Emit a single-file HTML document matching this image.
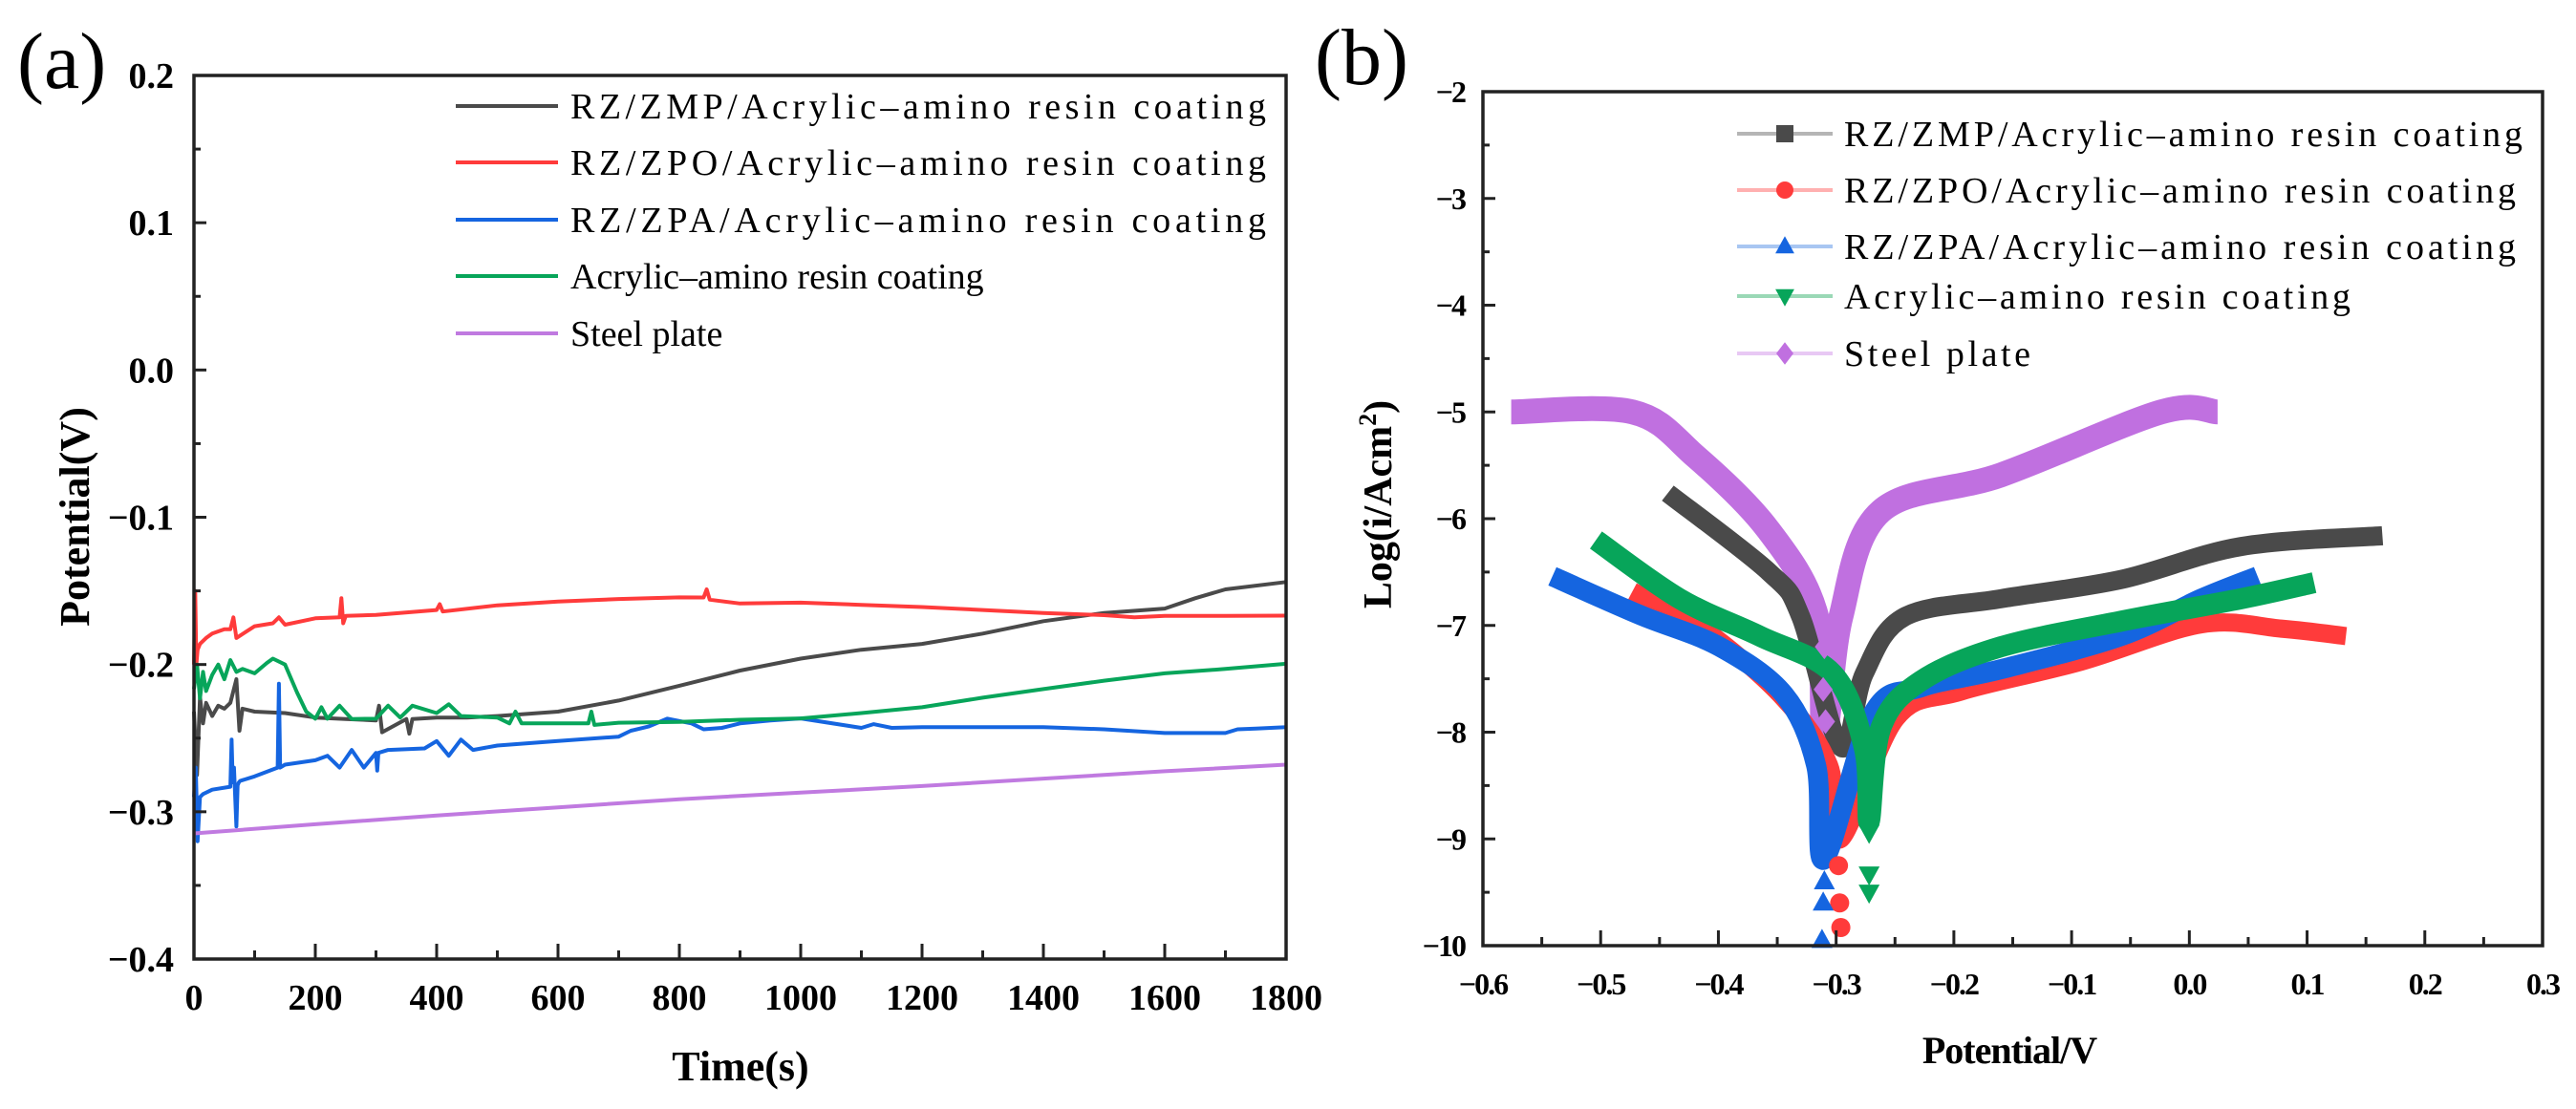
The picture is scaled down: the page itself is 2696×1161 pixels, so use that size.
<!DOCTYPE html>
<html><head><meta charset="utf-8">
<style>
html,body{margin:0;padding:0;background:#fff;}
svg{display:block;}
text{font-family:"Liberation Serif",serif;}
</style></head>
<body>
<svg id="fig" width="2696" height="1161" viewBox="0 0 2696 1161" xmlns="http://www.w3.org/2000/svg">
<rect x="0" y="0" width="2696" height="1161" fill="#fff"/>
<g id="pa"></g>
<g id="pb"></g>
</svg>
<script>
// ---------- Panel (a) data: open circuit potential vs time ----------
const aXTicks = [0,200,400,600,800,1000,1200,1400,1600,1800];
const aYTicks = [0.2,0.1,0.0,-0.1,-0.2,-0.3,-0.4];
const aYTickLabels = ["0.2","0.1","0.0","\u22120.1","\u22120.2","\u22120.3","\u22120.4"];
const aNames = ["RZ/ZMP/Acrylic\u2013amino resin coating","RZ/ZPO/Acrylic\u2013amino resin coating","RZ/ZPA/Acrylic\u2013amino resin coating","Acrylic\u2013amino resin coating","Steel plate"];
const aColors = ["#4a4a4a","#ff3b3b","#1565e0","#07a55a","#c07ae0"];

const blackT = [0,5,10,15,20,30,40,50,60,70,75,80,100,150,200,250,300,305,310,350,355,360,400,450,500,600,700,800,900,1000,1100,1200,1300,1400,1500,1600,1650,1700,1800];
const blackV = [-0.232,-0.275,-0.222,-0.24,-0.226,-0.235,-0.228,-0.23,-0.226,-0.21,-0.245,-0.23,-0.232,-0.233,-0.236,-0.237,-0.238,-0.228,-0.246,-0.237,-0.247,-0.237,-0.236,-0.236,-0.235,-0.232,-0.2245,-0.2144,-0.2041,-0.196,-0.19,-0.186,-0.179,-0.1706,-0.165,-0.162,-0.155,-0.149,-0.144];
const redT = [0,2,4,6,10,20,30,50,60,65,70,100,130,140,150,200,240,243,246,250,300,400,405,410,500,600,700,800,840,845,850,900,1000,1100,1200,1300,1400,1500,1550,1600,1700,1800];
const redV = [-0.2,-0.15,-0.2,-0.19,-0.186,-0.182,-0.179,-0.176,-0.176,-0.168,-0.182,-0.174,-0.172,-0.168,-0.173,-0.1686,-0.168,-0.155,-0.172,-0.167,-0.1663,-0.163,-0.159,-0.164,-0.1598,-0.1573,-0.1555,-0.1544,-0.1545,-0.149,-0.156,-0.1586,-0.158,-0.1595,-0.161,-0.163,-0.165,-0.1665,-0.168,-0.167,-0.167,-0.1668];
const blueT = [0,3,6,10,15,30,60,62,64,66,70,72,74,76,100,138,140,142,150,200,220,240,260,280,300,302,304,320,380,400,420,440,460,500,600,700,720,750,780,820,840,870,900,950,1000,1100,1120,1150,1200,1400,1500,1600,1700,1720,1750,1800];
const blueV = [-0.29,-0.27,-0.32,-0.29,-0.288,-0.285,-0.283,-0.251,-0.28,-0.27,-0.31,-0.282,-0.28,-0.279,-0.276,-0.27,-0.213,-0.27,-0.268,-0.265,-0.262,-0.27,-0.258,-0.27,-0.26,-0.272,-0.26,-0.258,-0.257,-0.252,-0.262,-0.251,-0.258,-0.255,-0.252,-0.249,-0.245,-0.242,-0.2368,-0.24,-0.244,-0.243,-0.24,-0.238,-0.2366,-0.243,-0.2405,-0.243,-0.2425,-0.2425,-0.244,-0.2465,-0.2465,-0.244,-0.2435,-0.2425];
const greenT = [0,5,10,15,20,30,40,50,60,70,80,100,120,130,150,170,185,200,210,220,240,260,300,320,340,360,400,420,440,500,520,530,540,600,650,655,660,700,800,900,1000,1100,1200,1300,1400,1500,1600,1700,1800];
const greenV = [-0.2167,-0.2,-0.223,-0.205,-0.218,-0.207,-0.2,-0.21,-0.197,-0.205,-0.203,-0.206,-0.199,-0.196,-0.2,-0.219,-0.232,-0.2368,-0.229,-0.2368,-0.228,-0.237,-0.2368,-0.228,-0.236,-0.228,-0.233,-0.227,-0.235,-0.236,-0.24,-0.232,-0.24,-0.24,-0.24,-0.232,-0.241,-0.2395,-0.239,-0.2375,-0.2366,-0.233,-0.229,-0.2225,-0.2167,-0.211,-0.206,-0.203,-0.1995];
const steelT = [0,200,400,600,800,1000,1200,1400,1600,1800];
const steelV = [-0.3147,-0.3085,-0.3025,-0.297,-0.2915,-0.287,-0.2825,-0.2775,-0.2725,-0.268];
const aSeriesT = [blackT,redT,blueT,greenT,steelT];
const aSeriesV = [blackV,redV,blueV,greenV,steelV];

// ---------- Panel (b) data: Tafel polarization ----------
const bXTicks = [-0.6,-0.5,-0.4,-0.3,-0.2,-0.1,0.0,0.1,0.2,0.3];
const bXTickLabels = ["\u22120.6","\u22120.5","\u22120.4","\u22120.3","\u22120.2","\u22120.1","0.0","0.1","0.2","0.3"];
const bYTicks = [-2,-3,-4,-5,-6,-7,-8,-9,-10];
const bYTickLabels = ["\u22122","\u22123","\u22124","\u22125","\u22126","\u22127","\u22128","\u22129","\u221210"];
const bNames = aNames;
const bColors = ["#4a4a4a","#ff3b3b","#1565e0","#07a55a","#c070e0"];
const bLegendLine = ["#b5b5b5","#ffb0b0","#a8c6f2","#9ad8b6","#e8c8f4"];

const steelBV = [-0.576,-0.473,-0.419,-0.358,-0.317,-0.31,-0.296,-0.262,-0.16,-0.024,0.024];
const steelBL = [-5,-5,-5.42,-6.1,-6.9,-8.04,-6.92,-5.93,-5.59,-5,-5];
const blackBV = [-0.443,-0.357,-0.33,-0.296,-0.276,-0.242,-0.16,-0.058,0.044,0.164];
const blackBL = [-5.76,-6.5,-6.92,-8.14,-7.45,-6.92,-6.75,-6.57,-6.26,-6.16];
const redBV = [-0.473,-0.413,-0.344,-0.306,-0.296,-0.249,-0.194,-0.092,0.01,0.078,0.133];
const redBL = [-6.68,-7.03,-7.69,-8.31,-9.0,-7.87,-7.62,-7.34,-6.99,-7.03,-7.1];
const blueBV = [-0.541,-0.467,-0.399,-0.344,-0.317,-0.31,-0.269,-0.228,-0.16,-0.058,0.01,0.058];
const blueBL = [-6.54,-6.9,-7.2,-7.65,-8.31,-9.19,-7.83,-7.58,-7.41,-7.1,-6.75,-6.54];
const greenBV = [-0.504,-0.433,-0.365,-0.303,-0.276,-0.272,-0.262,-0.228,-0.16,-0.058,0.044,0.106];
const greenBL = [-6.2,-6.75,-7.1,-7.45,-8.15,-8.84,-7.96,-7.52,-7.2,-6.96,-6.75,-6.6];
const redTailV = [-0.298,-0.297,-0.296];
const redTailL = [-9.25,-9.6,-9.83];
const blueTailV = [-0.31,-0.311,-0.312];
const blueTailL = [-9.4,-9.6,-9.95];
const greenTailV = [-0.272,-0.272,-0.272];
const greenTailL = [-8.94,-9.33,-9.5];
const steelTailV = [-0.31,-0.311,-0.309];
const steelTailL = [-7.2,-7.6,-7.9];
const bSeriesV = [blackBV,redBV,blueBV,greenBV,steelBV];
const bSeriesL = [blackBL,redBL,blueBL,greenBL,steelBL];

const NS="http://www.w3.org/2000/svg";
function mk(tag, attrs, parent){const e=document.createElementNS(NS,tag);for(const k in attrs)e.setAttribute(k,attrs[k]);parent.appendChild(e);return e;}
function smoothPath(P){
  let d='M'+P[0][0].toFixed(1)+','+P[0][1].toFixed(1);
  for(let i=0;i<P.length-1;i++){
    const p0=P[i-1]||P[i],p1=P[i],p2=P[i+1],p3=P[i+2]||P[i+1];
    const c1x=p1[0]+(p2[0]-p0[0])/6,c1y=p1[1]+(p2[1]-p0[1])/6;
    const c2x=p2[0]-(p3[0]-p1[0])/6,c2y=p2[1]-(p3[1]-p1[1])/6;
    d+=' C'+c1x.toFixed(1)+','+c1y.toFixed(1)+' '+c2x.toFixed(1)+','+c2y.toFixed(1)+' '+p2[0].toFixed(1)+','+p2[1].toFixed(1);
  }
  return d;
}

// ---- Panel A ----
const pa=document.getElementById('pa');
const aL=203,aR=1346,aT=79,aB=1004;
const ax=t=>aL+(t-0)/(1800-0)*(aR-aL);
const ay=v=>aT+(0.2-v)/(0.2+0.4)*(aB-aT);

let lab=mk('text',{x:18,y:92,'font-size':84},pa);lab.textContent='(a)';



for(let s=0;s<5;s++){
  const T=aSeriesT[s],V=aSeriesV[s];
  const pts=T.map((t,i)=>ax(t).toFixed(1)+','+ay(V[i]).toFixed(1)).join(' ');
  const pl=mk('polyline',{points:pts,fill:'none',stroke:aColors[s],'stroke-width':4,'stroke-linejoin':'round'},pa);
  
  
}
const fa=mk('rect',{x:aL,y:aT,width:aR-aL,height:aB-aT,fill:'none',stroke:'#222','stroke-width':3.5},pa);


aYTicks.forEach((v,i)=>{
  const y=ay(v);
  mk('line',{x1:aL,x2:aL+13,y1:y,y2:y,stroke:'#222','stroke-width':3},pa);
  if(i<aYTicks.length-1){const ym=ay(v-0.05);mk('line',{x1:aL,x2:aL+7,y1:ym,y2:ym,stroke:'#222','stroke-width':3},pa);}
  const t=mk('text',{x:aL-21,y:y+13,'font-size':38,'font-weight':'bold','text-anchor':'end'},pa);
  t.textContent=aYTickLabels[i];
  
  
});
aXTicks.forEach((tv,i)=>{
  const x=ax(tv);
  mk('line',{x1:x,x2:x,y1:aB,y2:aB-16,stroke:'#222','stroke-width':3},pa);
  if(i<aXTicks.length-1){const xm=ax(tv+100);mk('line',{x1:xm,x2:xm,y1:aB,y2:aB-9,stroke:'#222','stroke-width':3},pa);}
  const t=mk('text',{x:x,y:1057,'font-size':38,'font-weight':'bold','text-anchor':'middle'},pa);
  t.textContent=String(tv);
  
  
});
let xt=mk('text',{x:775,y:1131,'font-size':44,'font-weight':'bold','text-anchor':'middle'},pa);xt.textContent='Time(s)';


let yt=mk('text',{x:0,y:0,'font-size':44,'font-weight':'bold','text-anchor':'middle',transform:'translate(93,541) rotate(-90)'},pa);yt.textContent='Potential(V)';


const aLegY=[111,170,230,289,349];
for(let s=0;s<5;s++){
  const g=mk('g',{},pa);
  
  
  mk('line',{x1:477,x2:584,y1:aLegY[s],y2:aLegY[s],stroke:aColors[s],'stroke-width':4},g);
  const t=mk('text',{x:597,y:aLegY[s]+13,'font-size':38},g);
  t.textContent=aNames[s];
  if(s<3) t.setAttribute('textLength',728);
}

// ---- Panel B ----
const pb=document.getElementById('pb');
const bL=1552,bR=2661,bT=96,bB=990;
const bx=v=>bL+(v+0.6)/(0.9)*(bR-bL);
const by=l=>bT+(-2-l)/8*(bB-bT);

lab=mk('text',{x:1376,y:88,'font-size':84},pb);lab.textContent='(b)';



function marker(kind,x,y,r,color,parent){
  if(kind===0) return mk('rect',{x:x-r,y:y-r,width:2*r,height:2*r,fill:color},parent);
  if(kind===1) return mk('circle',{cx:x,cy:y,r:r,fill:color},parent);
  if(kind===2) return mk('polygon',{points:`${x},${y-r*1.2} ${x-r*1.1},${y+r*0.8} ${x+r*1.1},${y+r*0.8}`,fill:color},parent);
  if(kind===3) return mk('polygon',{points:`${x},${y+r*1.2} ${x-r*1.1},${y-r*0.8} ${x+r*1.1},${y-r*0.8}`,fill:color},parent);
  return mk('polygon',{points:`${x},${y-r*1.3} ${x-r},${y} ${x},${y+r*1.3} ${x+r},${y}`,fill:color},parent);
}
const bWidth=[20,19,21,22,26];
const order=[4,0,1,2,3];
order.forEach(s=>{
  const V=bSeriesV[s],Lg=bSeriesL[s];
  const P=V.map((v,i)=>[bx(v),by(Lg[i])]);
  const pl=mk('path',{d:smoothPath(P),fill:'none',stroke:bColors[s],'stroke-width':bWidth[s],'stroke-linejoin':'round','stroke-linecap':'butt'},pb);
  
  
});
const tails=[[redTailV,redTailL,1,bColors[1]],[blueTailV,blueTailL,2,bColors[2]],[greenTailV,greenTailL,3,bColors[3]],[steelTailV,steelTailL,4,bColors[4]]];
tails.forEach(([V,Lg,k,c])=>{
  V.forEach((v,i)=>{
    const m=marker(k,bx(v),by(Lg[i]),10,c,pb);
    
    
  });
});
const fb=mk('rect',{x:bL,y:bT,width:bR-bL,height:bB-bT,fill:'none',stroke:'#222','stroke-width':3.5},pb);


bYTicks.forEach((l,i)=>{
  const y=by(l);
  mk('line',{x1:bL,x2:bL+13,y1:y,y2:y,stroke:'#222','stroke-width':3},pb);
  if(i<bYTicks.length-1){const ym=by(l-0.5);mk('line',{x1:bL,x2:bL+7,y1:ym,y2:ym,stroke:'#222','stroke-width':3},pb);}
  const t=mk('text',{x:bL-19,y:y+11,'font-size':32,'font-weight':'bold','text-anchor':'end','letter-spacing':-2},pb);
  t.textContent=bYTickLabels[i];
  
  
});
bXTicks.forEach((v,i)=>{
  const x=bx(v);
  mk('line',{x1:x,x2:x,y1:bB,y2:bB-16,stroke:'#222','stroke-width':3},pb);
  if(i<bXTicks.length-1){const xm=bx(v+0.05);mk('line',{x1:xm,x2:xm,y1:bB,y2:bB-9,stroke:'#222','stroke-width':3},pb);}
  const t=mk('text',{x:x,y:1041,'font-size':32,'font-weight':'bold','text-anchor':'middle','letter-spacing':-2},pb);
  t.textContent=bXTickLabels[i];
  
  
});
xt=mk('text',{x:2103,y:1113,'font-size':40,'font-weight':'bold','text-anchor':'middle','letter-spacing':-1},pb);xt.textContent='Potential/V';


yt=mk('text',{x:0,y:0,'font-size':42,'font-weight':'bold','text-anchor':'middle',transform:'translate(1456,528) rotate(-90)'},pb);


yt.appendChild(document.createTextNode('Log(i/Acm'));
const sup=mk('tspan',{'font-size':26,dy:-16},yt);sup.textContent='2';
const cl=mk('tspan',{dy:16},yt);cl.textContent=')';
const bLegY=[140,199,258,310,370];
for(let s=0;s<5;s++){
  const g=mk('g',{},pb);
  
  
  mk('line',{x1:1818,x2:1918,y1:bLegY[s],y2:bLegY[s],stroke:bLegendLine[s],'stroke-width':4},g);
  marker(s,1868,bLegY[s],9,bColors[s],g);
  const t=mk('text',{x:1930,y:bLegY[s]+13,'font-size':38},g);
  t.textContent=bNames[s];
  const w=[710,703,703,530,195][s];
  t.setAttribute('textLength',w);
}
</script>
</body></html>
